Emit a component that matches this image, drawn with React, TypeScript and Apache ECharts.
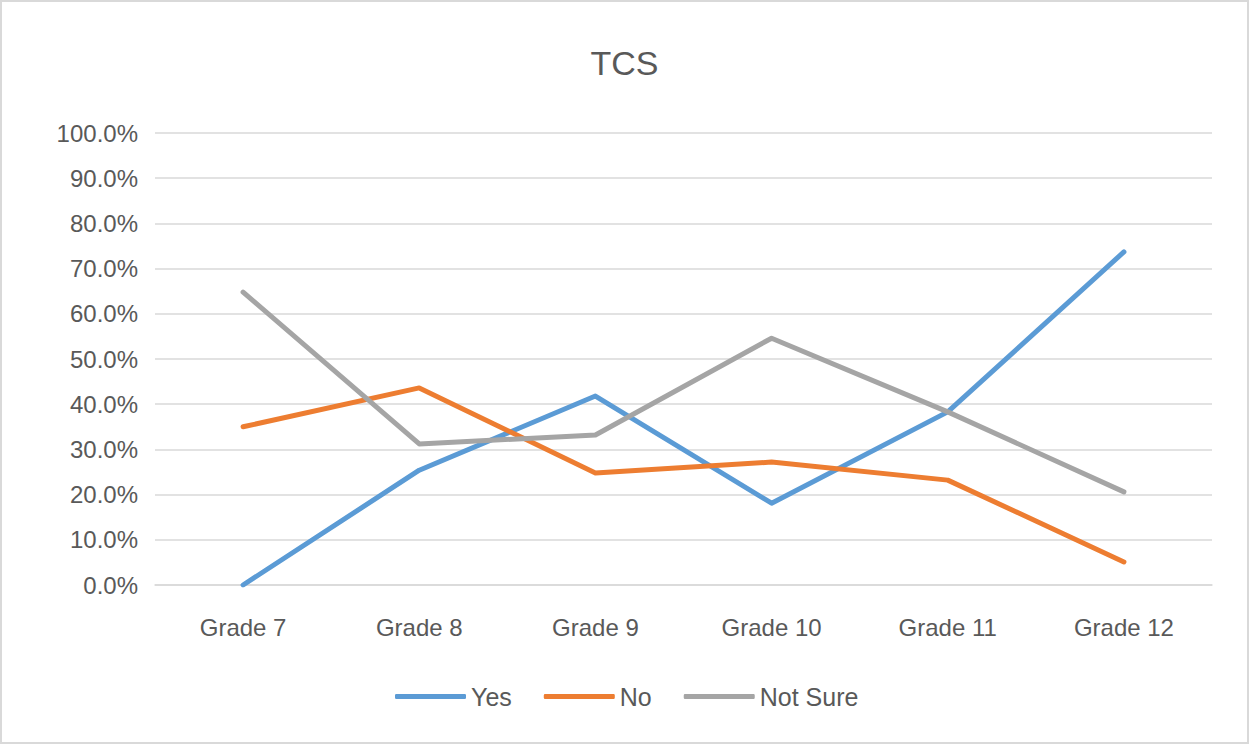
import React, { useEffect, useRef } from "react";
import * as echarts from "echarts";

const categories = ["Grade 7", "Grade 8", "Grade 9", "Grade 10", "Grade 11", "Grade 12"];
const yesValues = [0, 25.4, 41.8, 18.1, 38.3, 73.7];
const noValues = [35.0, 43.6, 24.8, 27.2, 23.2, 5.1];
const notSureValues = [64.8, 31.2, 33.2, 54.6, 38.3, 20.6];
const seriesNames = ["Yes", "No", "Not Sure"];
const seriesColors = ["#5B9BD5", "#ED7D31", "#A5A5A5"];

const FONT = "'Liberation Sans', Arial, sans-serif";
const TEXT = "#595959";

export default function App() {
  const ref = useRef<HTMLDivElement>(null);
  useEffect(() => {
    if (!ref.current) return;
    const chart = echarts.init(ref.current, undefined, { renderer: "svg" });
    const data = [yesValues, noValues, notSureValues];
    chart.setOption({
      animation: false,
      backgroundColor: "transparent",
      title: {
        text: "TCS",
        left: "center",
        top: 41,
        textStyle: { fontFamily: FONT, fontSize: 34, fontWeight: "normal", color: TEXT },
      },
      legend: {
        left: 390,
        top: 679,
        itemWidth: 71,
        itemHeight: 5,
        itemGap: 32,
        icon: "roundRect",
        data: seriesNames,
        textStyle: { fontFamily: FONT, fontSize: 25, color: TEXT },
      },
      grid: { left: 155, right: 37, top: 133, bottom: 159, containLabel: false },
      xAxis: {
        type: "category",
        data: categories,
        boundaryGap: true,
        axisLine: { show: true, lineStyle: { color: "#d9d9d9", width: 1.5 } },
        axisTick: { show: false },
        axisLabel: { fontFamily: FONT, fontSize: 24, color: TEXT, margin: 30 },
      },
      yAxis: {
        type: "value",
        min: 0,
        max: 100,
        interval: 10,
        axisLine: { show: false },
        axisTick: { show: false },
        splitLine: { lineStyle: { color: "#d9d9d9", width: 1.5 } },
        axisLabel: {
          fontFamily: FONT,
          fontSize: 24,
          color: TEXT,
          margin: 17,
          formatter: (v: number) => v.toFixed(1) + "%",
        },
      },
      series: seriesNames.map((name, i) => ({
        name,
        type: "line",
        data: data[i],
        symbol: "none",
        color: seriesColors[i],
        lineStyle: { width: 5, color: seriesColors[i], cap: "round", join: "round" },
      })),
    });
    return () => chart.dispose();
  }, []);
  return (
    <div
      style={{
        position: "absolute",
        left: 0,
        top: 0,
        width: 1249,
        height: 744,
        boxSizing: "border-box",
        border: "2px solid #d9d9d9",
        background: "#fff",
      }}
    >
      <div ref={ref} style={{ position: "absolute", left: -2, top: -2, width: 1249, height: 744 }} />
    </div>
  );
}
